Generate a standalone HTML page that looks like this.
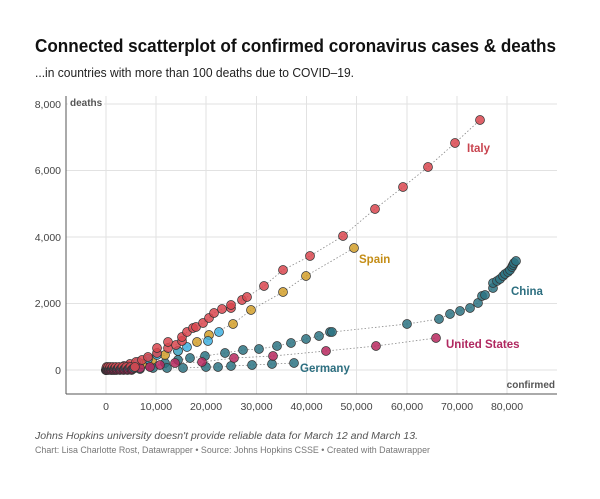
<!DOCTYPE html>
<html><head><meta charset="utf-8"><style>
body{margin:0;background:#fff;width:600px;height:494px;overflow:hidden;font-family:"Liberation Sans",sans-serif}
</style></head><body>
<svg width="600" height="494" viewBox="0 0 600 494" xmlns="http://www.w3.org/2000/svg" font-family="Liberation Sans, sans-serif">
<text x="35" y="52" font-size="18.5" font-weight="bold" fill="#111" textLength="521" lengthAdjust="spacingAndGlyphs">Connected scatterplot of confirmed coronavirus cases &amp; deaths</text>
<text x="35" y="77" font-size="12.5" fill="#222" textLength="319" lengthAdjust="spacingAndGlyphs">...in countries with more than 100 deaths due to COVID–19.</text>
<g stroke="#e2e2e2" stroke-width="1">
<line x1="66" y1="104" x2="557" y2="104"/><line x1="66" y1="170.5" x2="557" y2="170.5"/><line x1="66" y1="237" x2="557" y2="237"/><line x1="66" y1="303.5" x2="557" y2="303.5"/><line x1="66" y1="370" x2="557" y2="370"/>
<line x1="106" y1="96" x2="106" y2="394"/><line x1="156" y1="96" x2="156" y2="394"/><line x1="206" y1="96" x2="206" y2="394"/><line x1="256.5" y1="96" x2="256.5" y2="394"/><line x1="306.5" y1="96" x2="306.5" y2="394"/><line x1="356.5" y1="96" x2="356.5" y2="394"/><line x1="407" y1="96" x2="407" y2="394"/><line x1="457" y1="96" x2="457" y2="394"/><line x1="507" y1="96" x2="507" y2="394"/>
</g>
<line x1="66" y1="96" x2="66" y2="394" stroke="#555" stroke-width="1"/>
<line x1="66" y1="394" x2="557" y2="394" stroke="#555" stroke-width="1"/>
<g font-size="10.5" fill="#444" text-anchor="end">
<text x="61" y="108">8,000</text><text x="61" y="174">6,000</text><text x="61" y="241">4,000</text><text x="61" y="307">2,000</text><text x="61" y="374">0</text>
</g>
<g font-size="10.5" fill="#444" text-anchor="middle">
<text x="106" y="410">0</text><text x="156" y="410">10,000</text><text x="206" y="410">20,000</text><text x="256.5" y="410">30,000</text><text x="306.5" y="410">40,000</text><text x="356.5" y="410">50,000</text><text x="407" y="410">60,000</text><text x="457" y="410">70,000</text><text x="507" y="410">80,000</text>
</g>
<rect x="68" y="97" width="36" height="12" fill="#fff"/>
<text x="70" y="106" font-size="10" font-weight="bold" fill="#555">deaths</text>
<text x="555" y="388" font-size="10" font-weight="bold" fill="#555" text-anchor="end">confirmed</text>
<g id="pts"></g>
<g font-size="11.5" font-weight="bold">
<text x="467" y="152" fill="#c8444f">Italy</text>
<text x="359" y="263" fill="#c48d16">Spain</text>
<text x="511" y="295" fill="#2d6f80">China</text>
<text x="446" y="348" fill="#b02860">United States</text>
<text x="300" y="372" fill="#2d6f80">Germany</text>
</g>
<text x="35" y="439" font-size="10" font-style="italic" fill="#555" textLength="383" lengthAdjust="spacingAndGlyphs">Johns Hopkins university doesn't provide reliable data for March 12 and March 13.</text>
<text x="35" y="453" font-size="9" fill="#777" textLength="395" lengthAdjust="spacingAndGlyphs">Chart: Lisa Charlotte Rost, Datawrapper • Source: Johns Hopkins CSSE • Created with Datawrapper</text>
</svg>
<script>
var S={
china:{c:"#2d7383",p:[[106,370],[120,369],[135,368],[150,366],[165,363],[178,360],[190,358],[205,356],[225,353],[243,350],[259,349],[277,346],[291,343],[306,339],[319,336],[330,332],[332,332],[407,324],[439,319],[450,314],[460,311],[470,308],[478,303],[482,296],[485,295],[493,288],[493,283],[497,281],[500,279],[503,276],[505,274],[508,272],[510,270],[512,267],[513,265],[514,263],[516,261]]},
germany:{c:"#2d7383",p:[[106,370],[115,370],[125,369],[140,369],[153,368],[167,368],[183,368],[206,367],[218,367],[231,366],[252,365],[272,364],[294,363]]},
spain:{c:"#d29f2a",p:[[106,370],[118,369],[130,367],[142,364],[152,360],[165,355],[178,351],[197,342],[209,335],[233,324],[251,310],[283,292],[306,276],[354,248]]},
blue:{c:"#3fb0e0",p:[[106,370],[118,368],[128,366],[138,362],[148,359],[157,355],[178,351],[187,347],[208,341],[219,332]]},
us:{c:"#b7285e",p:[[106,370],[112,370],[120,369],[130,369],[140,368],[150,367],[160,365],[175,363],[202,362],[234,358],[273,356],[326,351],[376,346],[436,338]]},
italy:{c:"#d9464f",p:[[106,370],[112,369],[118,368],[124,366],[130,364],[136,362],[142,360],[148,357],[157,353],[157,348],[168,348],[168,342],[176,345],[182,341],[182,337],[187,332],[193,328],[196,327],[203,323],[209,318],[214,313],[222,309],[231,308],[231,305],[242,300],[247,297],[264,286],[283,270],[310,256],[343,236],[375,209],[403,187],[428,167],[455,143],[480,120]]}
};
var g=document.getElementById("pts"),h="";
for(var k in S){var p=S[k].p;h+='<polyline fill="none" stroke="#888" stroke-width="0.8" stroke-dasharray="1.5,2" points="'+p.map(function(a){return a.join(",")}).join(" ")+'"/>';}
for(var k in S){S[k].p.forEach(function(a){h+='<circle cx="'+a[0]+'" cy="'+a[1]+'" r="4.5" fill="'+S[k].c+'" fill-opacity="0.85" stroke="#333" stroke-width="0.7"/>';});}
var cs=["#8a1a45","#b7285e","#2d7383","#d9464f"];
for(var i=0;i<40;i++){var x=106+Math.pow(i/40,1.5)*30,y=370-(i%4);h+='<circle cx="'+x+'" cy="'+y+'" r="4.5" fill="'+cs[i%4]+'" fill-opacity="0.9" stroke="#333" stroke-width="0.7"/>';}
g.innerHTML=h;
</script>
</body></html>
